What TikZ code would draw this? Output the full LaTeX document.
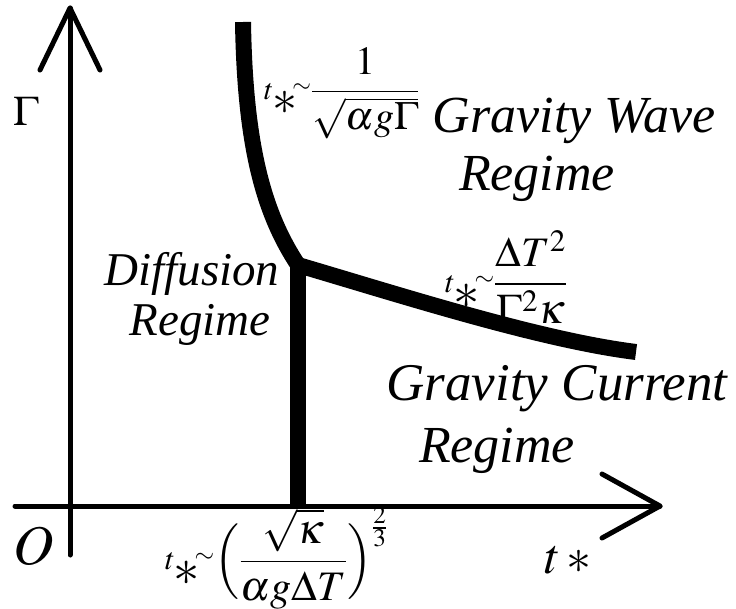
\documentclass[tikz,border=0pt]{standalone}
\usepackage{amsmath}
\usepackage{mathptmx}
\usepackage{fontspec}
\setmainfont{Liberation Serif}
\usetikzlibrary{positioning}

\newcommand{\tsim}{\mbox{\raisebox{0.05em}{$\scriptstyle t$}\kern-0.04em\raisebox{-0.33em}{\scalebox{1.25}{$\ast$}}\kern-0.12em\raisebox{0.22em}{$\scriptscriptstyle\sim$}}}

\tikzset{
    axis/.style={line width=5pt, line cap=round, line join=round},
    border/.style={line width=16pt},
    regime/.style={font=\fontsize{52}{60}\selectfont\itshape, inner sep=0pt},
    law/.style={font=\fontsize{42}{48}\selectfont, inner sep=0pt},
}

\begin{document}
\begin{tikzpicture}[x=1pt, y=-1pt]
\useasboundingbox (0,0) rectangle (736,608);

% axes
\coordinate (ybot) at (70,555);
\coordinate (ytop) at (70,8);
\coordinate (xbeg) at (15,506);
\coordinate (xend) at (660,506);
\draw[axis] (ybot) -- (ytop);
\draw[axis] (40,70) -- (ytop) -- (100,70);
\draw[axis] (xbeg) -- (xend);
\draw[axis] (602,474) -- (xend) -- (602,538);

% regime borders
\coordinate (triple) at (298,265);
\coordinate (wavetop) at (243,22);
\coordinate (currend) at (636,352);
\coordinate (diffbot) at (298,506);
\draw[border] (wavetop) .. controls (245,150) and (265,215) .. (triple);
\draw[border] (triple) .. controls (400,295) and (540,340) .. (currend);
\draw[border] (triple) -- (diffbot);
\fill (triple) circle[radius=8pt];

% axis labels
\node[font=\fontsize{42}{42}\selectfont, inner sep=0pt] (gamma) at (26,111) {$\Gamma$};
\node[font=\fontsize{56}{56}\selectfont, inner sep=0pt] (origin) at (34,546) {$O$};
\node[font=\fontsize{50}{50}\selectfont, inner sep=0pt, anchor=base west] (tstar) at (545,573) {$t\,\ast$};

% regimes
\node[regime, anchor=base] (wave) at (574,132) {Gravity Wave};
\node[regime, anchor=base] (waver) at (537,190) {Regime};
\node[regime, anchor=base, font=\fontsize{47}{54}\selectfont\itshape] (diff) at (192,285) {Diffusion};
\node[regime, anchor=base, font=\fontsize{47}{54}\selectfont\itshape] (diffr) at (200,335) {Regime};
\node[regime, anchor=base, font=\fontsize{53}{60}\selectfont\itshape] (curr) at (557,400) {Gravity Current};
\node[regime, anchor=base] (currr) at (497,462) {Regime};

% scaling laws
\node[law, anchor=west, font=\fontsize{40}{46}\selectfont] (wavelaw) at (264,93) {$\tsim\dfrac{1}{\sqrt{\alpha g\Gamma}}$};
\node[law, anchor=west] (currlaw) at (445,277) {$\tsim\dfrac{\Delta T^{2}}{\Gamma^{2}\kappa}$};
\node[law, anchor=west] (difflaw) at (165,558) {$\tsim\Bigl(\dfrac{\sqrt{\kappa}}{\alpha g\Delta T}\Bigr)^{\frac{2}{3}}$};

\end{tikzpicture}
\end{document}
